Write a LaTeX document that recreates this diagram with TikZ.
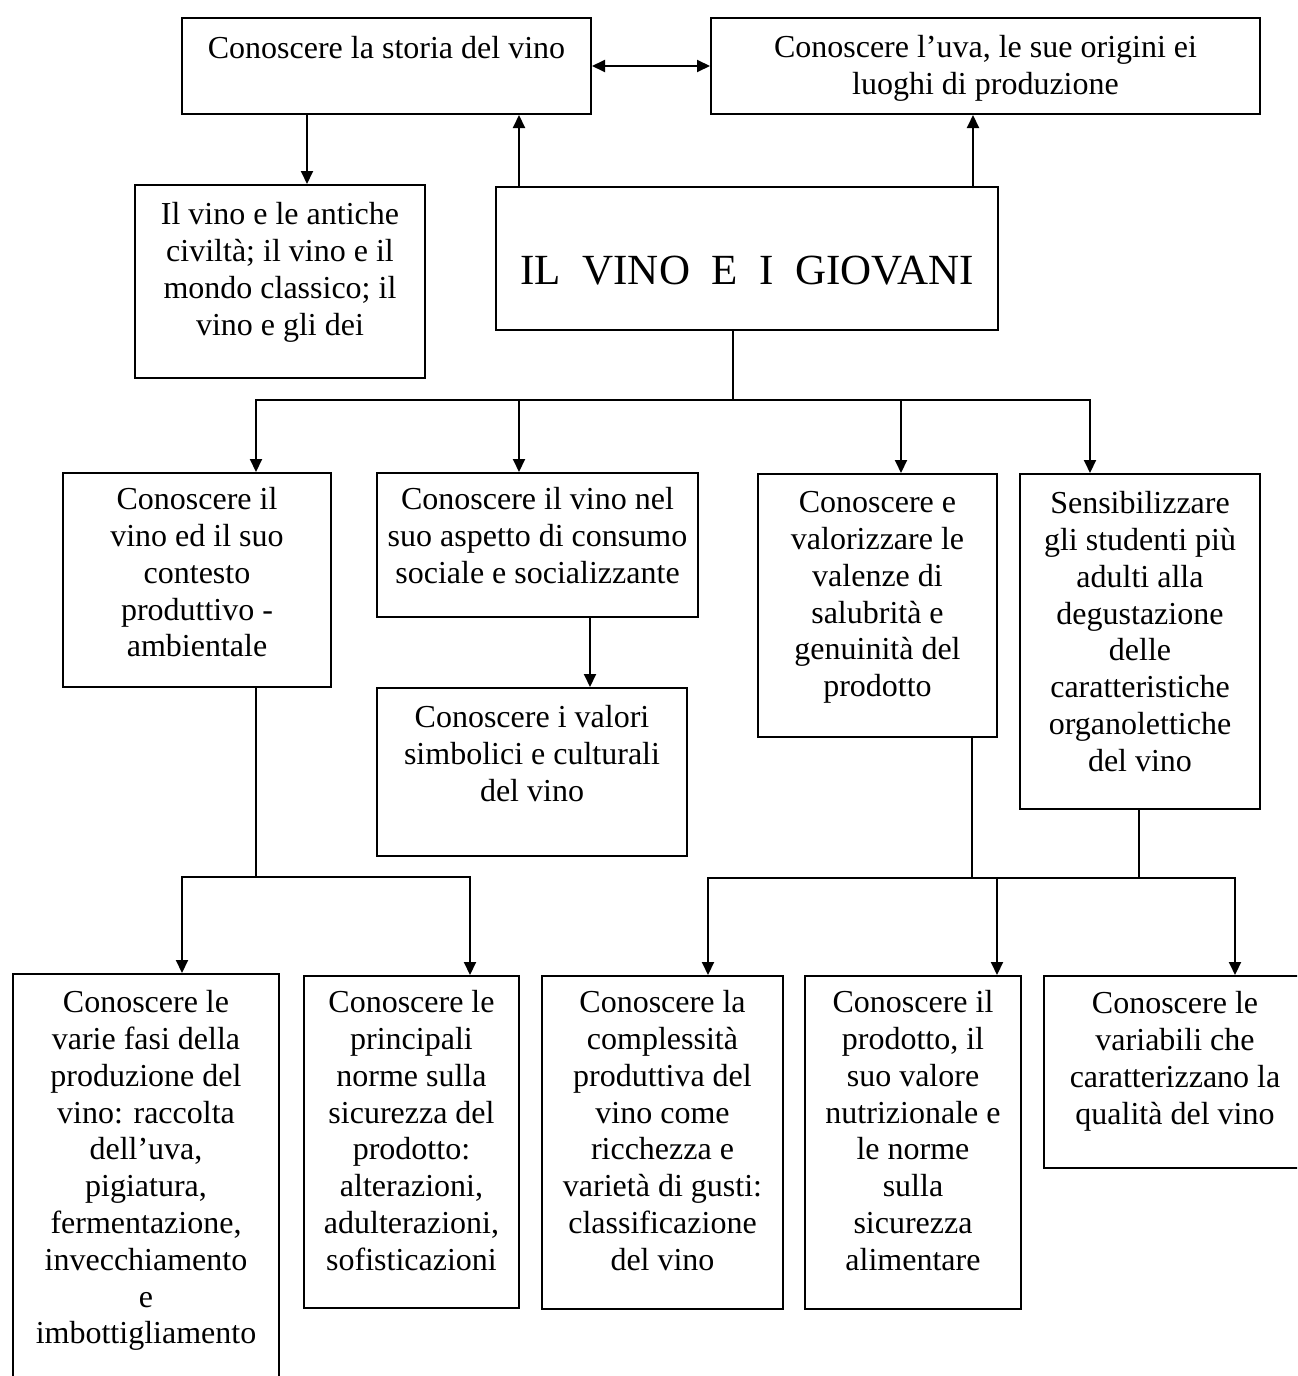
\documentclass[tikz,border=0pt]{standalone}
\usepackage{fontspec}
\setmainfont{Liberation Serif}
\usetikzlibrary{arrows.meta}

% text block of a box: width, height, top gap (units of 0.5pt), then the lines
\newcommand{\boxlines}[4]{%
  \begin{minipage}[t][\dimexpr #2pt/2\relax][t]{\dimexpr #1pt/2\relax}%
    \centering\vspace*{\dimexpr #3pt/2\relax}\strut #4%
  \end{minipage}}

\begin{document}
\begin{tikzpicture}[x=0.5pt,y=-0.5pt,
  box/.style={draw, line width=1pt, inner sep=0pt, anchor=north west,
    font=\fontsize{16}{18.4}\selectfont},
  link/.style={line width=1pt, line cap=rect},
  arr/.style={line width=1pt, -{Triangle[length=6.5pt,width=6pt]}},
  arrs/.style={line width=1pt,
    {Triangle[length=6.5pt,width=6pt]}-{Triangle[length=6.5pt,width=6pt]}}]

\useasboundingbox (0,0) rectangle (1297,1376);
\fill[white] (0,0) rectangle (1297,1376);
\clip (0,0) rectangle (1297,1376);

% --- top row
\node[box] (storia) at (181,17)
  {\boxlines{409}{96}{15}{Conoscere la storia del vino}};
\node[box] (uva) at (710,17)
  {\boxlines{549}{96}{14}{Conoscere l’uva, le sue origini ei\\luoghi di produzione}};

% --- second row
\node[box] (antiche) at (134,184)
  {\boxlines{290}{193}{14}{Il vino e le antiche\\civiltà; il vino e il\\mondo classico; il\\vino e gli dei}};
\node[box] (main) at (495,186)
  {\begin{minipage}[t][71.5pt][t]{251pt}\centering\vspace*{34.5pt}%
   \fontsize{21.5}{25}\selectfont IL~~VINO~~E~~I~~GIOVANI\end{minipage}};

% --- third row
\node[box] (A) at (62,472)
  {\boxlines{268}{214}{11}{Conoscere il\\vino ed il suo\\contesto\\produttivo -\\ambientale}};
\node[box] (B) at (376,472)
  {\boxlines{321}{144}{11}{Conoscere il vino nel\\suo aspetto di consumo\\sociale e socializzante}};
\node[box] (valori) at (376,687)
  {\boxlines{310}{168}{14}{Conoscere i valori\\simbolici e culturali\\del vino}};
\node[box] (C) at (757,473)
  {\boxlines{239}{263}{13}{Conoscere e\\valorizzare le\\valenze di\\salubrità e\\genuinità del\\prodotto}};
\node[box] (D) at (1019,473)
  {\boxlines{240}{335}{14}{Sensibilizzare\\gli studenti più\\adulti alla\\degustazione\\delle\\caratteristiche\\organolettiche\\del vino}};

% --- bottom row
\node[box] (E) at (12,973)
  {\boxlines{266}{412}{13}{Conoscere le\\varie fasi della\\produzione del\\vino: raccolta\\dell’uva,\\pigiatura,\\fermentazione,\\invecchiamento\\e\\imbottigliamento}};
\node[box] (F) at (303,975)
  {\boxlines{215}{332}{11}{Conoscere le\\principali\\norme sulla\\sicurezza del\\prodotto:\\alterazioni,\\adulterazioni,\\sofisticazioni}};
\node[box] (G) at (541,975)
  {\boxlines{241}{333}{11}{Conoscere la\\complessità\\produttiva del\\vino come\\ricchezza e\\varietà di gusti:\\classificazione\\del vino}};
\node[box] (H) at (804,975)
  {\boxlines{216}{333}{11}{Conoscere il\\prodotto, il\\suo valore\\nutrizionale e\\le norme\\sulla\\sicurezza\\alimentare}};
\node[box] (I) at (1043,975)
  {\boxlines{262}{192}{12}{Conoscere le\\variabili che\\caratterizzano la\\qualità del vino}};

% --- connectors of the top part
\coordinate (dS) at (307,0);
\coordinate (uL) at (519,0);
\coordinate (uR) at (973,0);
\draw[arrs] (storia.east) -- (uva.west);
\draw[arr] (storia.south -| dS) -- (antiche.north -| dS);
\draw[arr] (main.north -| uL) -- (storia.south -| uL);
\draw[arr] (main.north -| uR) -- (uva.south -| uR);

% --- first branching
\coordinate (t1) at (733,400);
\coordinate (bA) at (256,400);
\coordinate (bB) at (519,400);
\coordinate (bC) at (901,400);
\coordinate (bD) at (1090,400);
\draw[link] (main.south -| t1) -- (t1);
\draw[link] (bA) -- (bD);
\draw[arr] (bA) -- (A.north -| bA);
\draw[arr] (bB) -- (B.north -| bB);
\draw[arr] (bC) -- (C.north -| bC);
\draw[arr] (bD) -- (D.north -| bD);

\coordinate (vB) at (590,0);
\draw[arr] (B.south -| vB) -- (valori.north -| vB);

% --- branching under the production box
\coordinate (t2) at (256,877);
\coordinate (bE) at (182,877);
\coordinate (bF) at (470,877);
\draw[link] (A.south -| t2) -- (t2);
\draw[link] (bE) -- (bF);
\draw[arr] (bE) -- (E.north -| bE);
\draw[arr] (bF) -- (F.north -| bF);

% --- branching under the health and tasting boxes
\coordinate (tC) at (972,878);
\coordinate (tD) at (1139,878);
\coordinate (bG) at (708,878);
\coordinate (bH) at (997,878);
\coordinate (bI) at (1235,878);
\draw[link] (C.south -| tC) -- (tC);
\draw[link] (D.south -| tD) -- (tD);
\draw[link] (bG) -- (bI);
\draw[arr] (bG) -- (G.north -| bG);
\draw[arr] (bH) -- (H.north -| bH);
\draw[arr] (bI) -- (I.north -| bI);

\end{tikzpicture}
\end{document}
